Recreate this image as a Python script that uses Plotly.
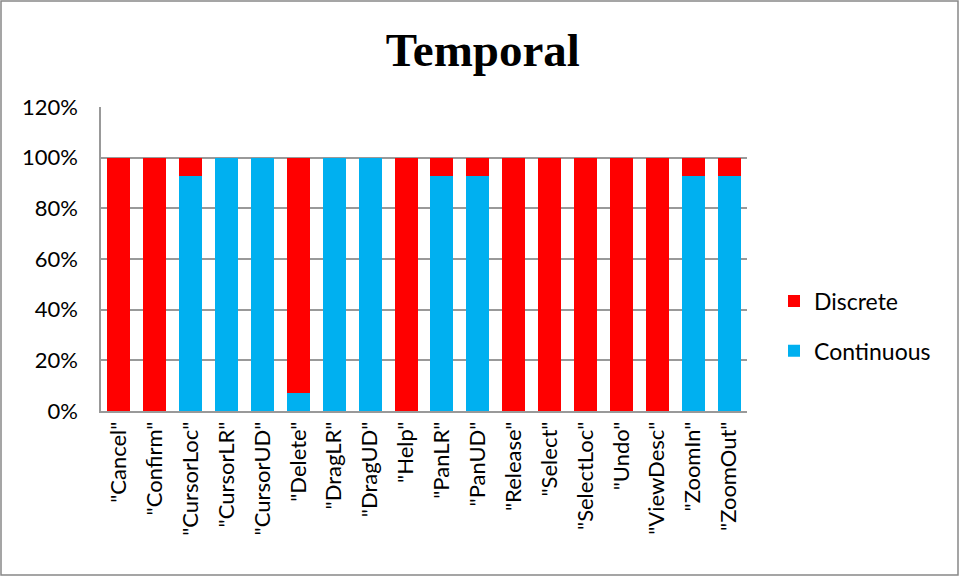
import plotly.graph_objects as go

categories = ['"Cancel"', '"Confirm"', '"CursorLoc"', '"CursorLR"', '"CursorUD"', '"Delete"',
              '"DragLR"', '"DragUD"', '"Help"', '"PanLR"', '"PanUD"', '"Release"', '"Select"',
              '"SelectLoc"', '"Undo"', '"ViewDesc"', '"ZoomIn"', '"ZoomOut"']
continuous = [0, 0, 13/14, 1, 1, 1/14, 1, 1, 0, 13/14, 13/14, 0, 0, 0, 0, 0, 13/14, 13/14]
discrete = [1 - c for c in continuous]
y_ticks = [0, 0.2, 0.4, 0.6, 0.8, 1.0, 1.2]

font = "Lato, 'Open Sans', sans-serif"

fig = go.Figure()
fig.add_trace(go.Bar(x=categories, y=continuous, name="Continuous", marker_color="#00B0F0",
                     marker_line_width=0, legendgroup="c", legendrank=2))
fig.add_trace(go.Bar(x=categories, y=discrete, name="Discrete", marker_color="#FF0000",
                     marker_line_width=0, legendgroup="d", legendrank=1))

L, R, T, B = 101, 213, 107, 166
pw, ph = 960 - L - R, 577 - T - B

fig.update_layout(
    width=960, height=577,
    barmode="stack", bargap=0.36,
    margin=dict(l=L, r=R, t=T, b=B),
    paper_bgcolor="white", plot_bgcolor="white",
    title=dict(text="<b>Temporal</b>", x=0.503, xref="container", xanchor="center",
               y=1 - 50/577, yref="container", yanchor="middle",
               font=dict(family="'Liberation Serif', 'Times New Roman', serif", size=47, color="black")),
    legend=dict(x=(774 - L)/pw, y=(411 - 326)/ph, xanchor="left", yanchor="middle",
                traceorder="grouped", font=dict(family=font, size=23, color="black"),
                itemwidth=30, tracegroupgap=17, bgcolor="rgba(0,0,0,0)"),
    xaxis=dict(tickangle=-90, tickfont=dict(family=font, size=22, color="black"),
               showline=True, linecolor="#999999", linewidth=1.5, ticks="", showgrid=False),
    yaxis=dict(range=[0, 1.2], tickvals=y_ticks, tickformat=".0%",
               tickfont=dict(family=font, size=22, color="black"),
               showgrid=True, gridcolor="#999999", gridwidth=1.8,
               showline=True, linecolor="#999999", linewidth=1.5, ticks="",
               ticklabelstandoff=17, zeroline=False),
    shapes=[dict(type="rect", xref="paper", yref="paper",
                 x0=(1 - L)/pw, x1=(958 - L)/pw, y0=-(575 - 411)/ph, y1=(411 - 1)/ph,
                 line=dict(color="#888888", width=1.5), fillcolor="rgba(0,0,0,0)", layer="below")],
)

fig.write_html("out.html")
